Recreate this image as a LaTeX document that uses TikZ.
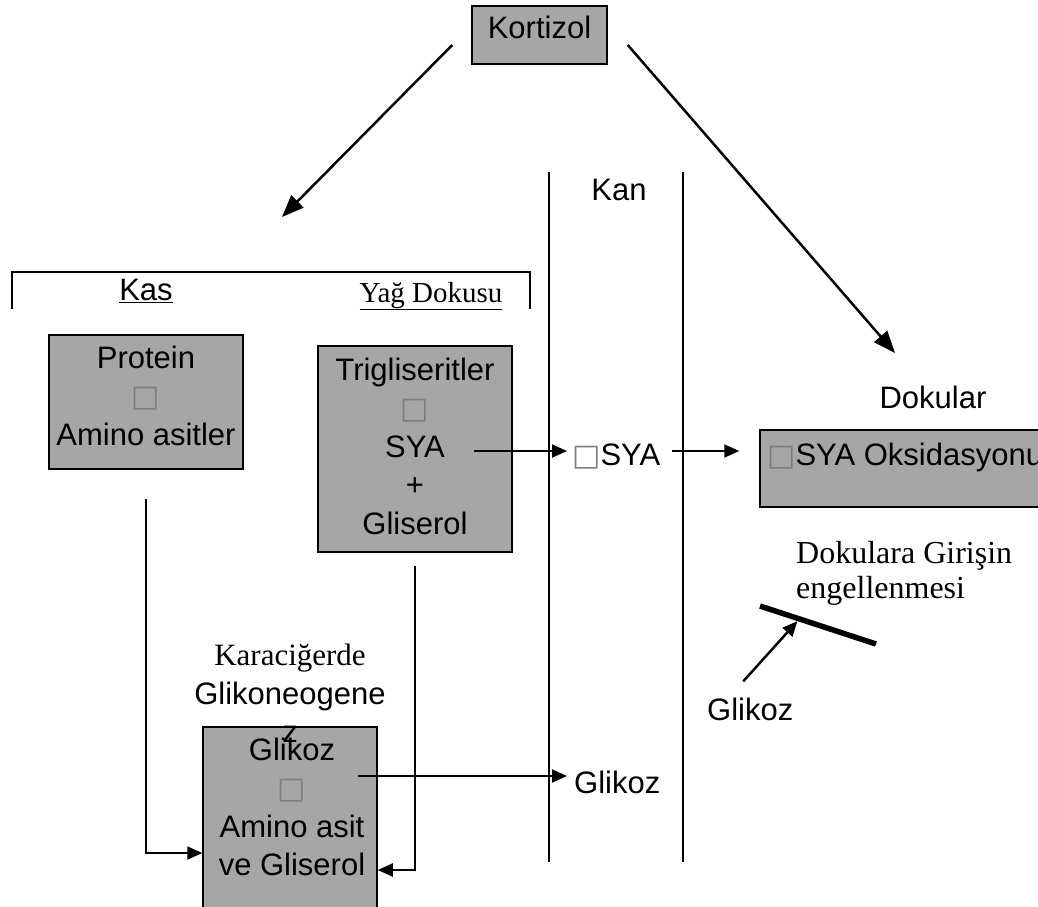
\documentclass[tikz,border=0pt]{standalone}
\usepackage{fontspec}
\setmainfont{Liberation Sans}
\newfontfamily\serifyazi{Liberation Serif}
\newfontfamily\simgeyazi{DejaVu Sans}
\usetikzlibrary{positioning,arrows.meta,calc}
\definecolor{kutugri}{HTML}{A6A6A6}
\definecolor{bosgri}{HTML}{7F7F7F}
\newcommand{\bos}{{\simgeyazi\fontsize{30}{30}\selectfont\textcolor{bosgri}{□}}}

\begin{document}
\begin{tikzpicture}[x=1pt,y=-1pt,
  yazi/.style={font=\fontsize{31}{38.5}\selectfont, align=center, inner sep=0pt},
  seriflik/.style={font=\serifyazi\fontsize{32}{35}\selectfont, inner sep=0pt},
  kutu/.style={draw=black, line width=1.5pt, fill=kutugri, inner sep=0pt},
  ok/.style={line width=2pt, -{Triangle[length=15pt,width=13pt]}},
  capraz/.style={line width=2.5pt, -{Triangle[length=22pt,width=17pt]}},
  cizgi/.style={line width=2pt}]
\useasboundingbox (0,0) rectangle (1038,906);
\clip (0,0) rectangle (1038,906);

% Kortizol
\node[kutu, minimum width=135pt, minimum height=58pt] (kortizol) at (539.5,35) {};
\node[yazi, anchor=base] (kortizolyazi) at (539.5,38) {Kortizol};
\coordinate (kasuc) at (282,217);
\coordinate (dokuuc) at (895,353);
\draw[capraz] ([xshift=-19pt,yshift=-10pt]kortizol.west) -- (kasuc);
\draw[capraz] ([xshift=20pt,yshift=-10pt]kortizol.east) -- (dokuuc);

% Kas ve yag dokusu
\draw[line width=1.5pt] (12,309) |- (530,272) -- (530,309);
\node[yazi, anchor=base] (kas) at (146,300) {\underline{Kas}};
\node[seriflik, anchor=base, font=\serifyazi\fontsize{29}{30}\selectfont] (yag) at (431,302) {\underline{Yağ Dokusu}};

\node[kutu, minimum width=194pt, minimum height=134pt] (protein) at (146,402) {};
\node[yazi, anchor=north] (proteinyazi) at (146,345.7) {Protein\\\bos\\Amino asitler};

\node[kutu, minimum width=194pt, minimum height=206pt] (trig) at (415,449) {};
\node[yazi, anchor=north] (trigyazi) at (415,357.5) {Trigliseritler\\\bos\\SYA\\+\\Gliserol};

% Kan
\draw[cizgi] (549,172) -- (549,862);
\draw[cizgi] (683,172) -- (683,862);
\node[yazi, anchor=base] (kan) at (619,200) {Kan};
\node[yazi, anchor=base west] (kansya) at (572,465) {\bos SYA};
\node[yazi, anchor=base west] (kanglikoz) at (574,793) {Glikoz};

% Dokular
\node[yazi, anchor=base] (dokular) at (933,408) {Dokular};
\node[kutu, minimum width=290pt, minimum height=77pt] (oksidasyon) at (905,468.5) {};
\node[yazi, anchor=base west] (oksyazi) at (767,465) {\bos SYA Oksidasyonu};

\coordinate (syacikis) at ([xshift=-39pt,yshift=-2pt]trig.east);
\draw[ok, shorten >=5pt] (syacikis) -- (syacikis -| kansya.west);
\draw[ok, shorten <=12pt, shorten >=20pt] (syacikis -| kansya.east) -- (syacikis -| oksidasyon.west);

% Karaciger
\node[kutu, minimum width=174pt, minimum height=190pt] (karaciger) at (290,822) {};
\node[yazi, anchor=north] (karacigeryazi) at (292,737.5) {Glikoz\\\bos\\Amino asit\\ve Gliserol};
\node[yazi, anchor=north] (glikoneo) at (290,644) {{\serifyazi Karaciğerde}\\Glikoneogene\\z};

\coordinate (glikozcikis) at (358,776);
\draw[ok, shorten >=7pt] (glikozcikis) -- (glikozcikis -| kanglikoz.west);
\draw[ok] ([yshift=-29pt]protein.south) |- ([yshift=-31pt]karaciger.west);
\draw[ok] ([yshift=-13pt]trig.south) |- ([yshift=-48pt]karaciger.east);

% Engel
\node[seriflik, anchor=north west, align=left] (engelyazi) at (796,541.5) {Dokulara Girişin\\engellenmesi};
\coordinate (engelA) at (760,606);
\coordinate (engelB) at (876,644);
\draw[line width=5.5pt] (engelA) -- (engelB);
\node[yazi, anchor=base west] (glikozsag) at (707,720) {Glikoz};
\draw[ok, line width=2.5pt, shorten >=3pt] ([xshift=-7pt,yshift=16pt]glikozsag.north) -- ($(engelA)!0.34!(engelB)$);
\end{tikzpicture}
\end{document}
